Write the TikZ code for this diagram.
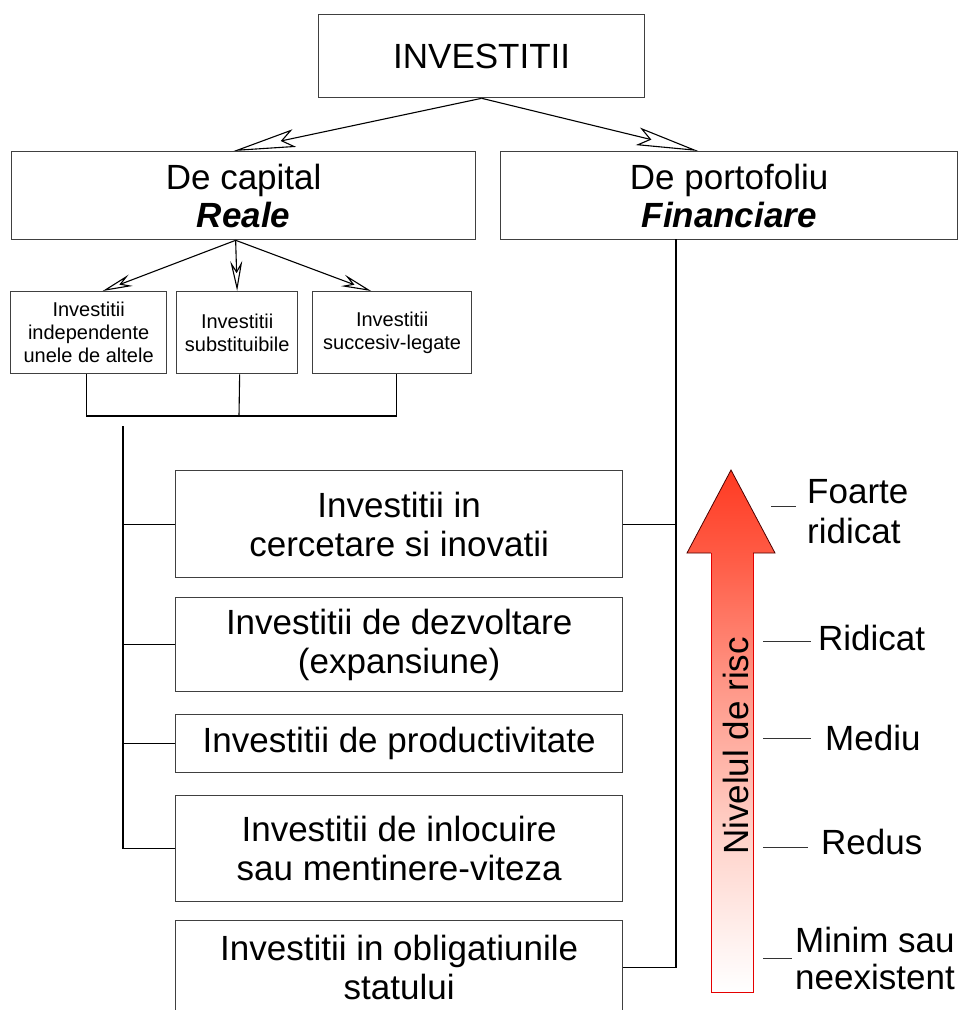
\documentclass[tikz,border=0pt]{standalone}
\usepackage{fontspec}
\setmainfont{Liberation Sans}
\usetikzlibrary{arrows.meta}

\definecolor{riskA}{HTML}{FFF4F2}
\definecolor{riskB}{HTML}{FFD2C9}
\definecolor{riskC}{HTML}{FF9484}
\definecolor{riskD}{HTML}{FF5E48}
\definecolor{riskE}{HTML}{FF3A22}

% vertical ramp for the risk arrow: white at the foot, red at the tip
\pgfdeclareverticalshading{riskshade}{100bp}{%
  color(0bp)=(white); color(25bp)=(white); color(29bp)=(riskA);
  color(40bp)=(riskB); color(55bp)=(riskC); color(66bp)=(riskD);
  color(75bp)=(riskE); color(100bp)=(riskE)}

\newcommand\mainsize{\fontsize{35}{39}\selectfont}
\newcommand\boxsmallfont{\fontsize{20}{23}\selectfont}

\begin{document}
\begin{tikzpicture}[x=1pt, y=-1pt,
  box/.style={draw=black!75, line width=1.3pt, fill=white, inner sep=0pt,
    align=center, anchor=north west, font=\mainsize},
  smallbox/.style={box, font=\boxsmallfont},
  link/.style={draw=black, line width=1.1pt},
  bigarrow/.style={link, -{Stealth[open, length=62pt, width=18pt, inset=12pt]}},
  smallarrow/.style={link, -{Stealth[open, length=30pt, width=12pt, inset=10pt]}},
  level/.style={inner sep=0pt, anchor=west, align=left, font=\mainsize},
  tick/.style={draw=black!80, line width=1pt}]

\useasboundingbox (0,0) rectangle (958,1010);
\clip (0,0) rectangle (958,1010);

% main categories
\node[box, minimum width=326pt, minimum height=83pt] (top) at (318,14) {INVESTITII};
\node[box, minimum width=464pt, minimum height=88pt] (cap) at (11,151)
  {De capital\\[-1pt]\textbf{\textit{Reale}}};
\node[box, minimum width=457pt, minimum height=88pt] (port) at (500,151)
  {De portofoliu\\[-1pt]\textbf{\textit{Financiare}}};

% kinds of real investments
\node[smallbox, minimum width=156pt, minimum height=82pt] (s1) at (10,291)
  {Investitii\\independente\\unele de altele};
\node[smallbox, minimum width=121pt, minimum height=82pt] (s2) at (176,291)
  {Investitii\\substituibile};
\node[smallbox, minimum width=159pt, minimum height=82pt] (s3) at (312,291)
  {Investitii\\succesiv-legate};

% investments ordered by risk
\node[box, minimum width=447pt, minimum height=107pt] (b1) at (175,470)
  {Investitii in\\cercetare si inovatii};
\node[box, minimum width=447pt, minimum height=94pt] (b2) at (175,597)
  {Investitii de dezvoltare\\(expansiune)};
\node[box, minimum width=447pt, minimum height=58pt] (b3) at (175,714)
  {Investitii de productivitate};
\node[box, minimum width=447pt, minimum height=106pt] (b4) at (175,795)
  {Investitii de inlocuire\\sau mentinere-viteza};
\node[box, minimum width=447pt, minimum height=93pt] (b5) at (175,920)
  {Investitii in obligatiunile\\statului};

% arrows from the root
\draw[bigarrow] (top.south) -- ([xshift=-10pt]cap.north);
\draw[bigarrow] (top.south) -- ([xshift=-31pt]port.north);

% arrows to the kinds of real investments
\coordinate (capfoot) at ([xshift=-8pt]cap.south);
\draw[smallarrow] (capfoot) -- ([xshift=14pt]s1.north);
\draw[smallarrow] (capfoot) -- (s2.north);
\draw[smallarrow] (capfoot) -- ([xshift=-21pt]s3.north);

% bracket under the three kinds
\coordinate (brk) at (239,416);
\draw[link] ([xshift=-2pt]s1.south) |- (brk) -| ([xshift=4.5pt]s3.south);
\draw[link] ([xshift=2.5pt]s2.south) -- (brk);

% trunk feeding the real investment boxes
\coordinate (trunk) at (123,426);
\draw[link] (trunk) |- (b4.west);
\draw[link] (b1.west -| trunk) -- (b1.west);
\draw[link] (b2.west -| trunk) -- (b2.west);
\draw[link] (b3.west -| trunk) -- (b3.west);

% portfolio line
\coordinate (pline) at (676,239);
\draw[link] (pline) |- (b5.east);
\draw[link] (b1.east) -- (b1.east -| pline);

% risk arrow
\shade[shading=riskshade] (711,553) -- (687,553) -- (731,470) -- (775,553)
  -- (753,553) -- (753,992) -- (711,992) -- cycle;
\draw[red!90!black, line width=0.8pt] (711,553) -- (711,992) -- (753,992) -- (753,553);
\draw[black!70!red, line width=0.8pt, line join=miter] (711,553) -- (687,553)
  -- (731,470) -- (775,553) -- (753,553);
\node[inner sep=0pt, rotate=90, font=\mainsize] (risk) at (736,746) {Nivelul de risc};

% risk levels
\node[level] (l1) at (807,512) {Foarte\\[1pt]ridicat};
\node[level] (l2) at (818,638) {Ridicat};
\node[level] (l3) at (825,738) {Mediu};
\node[level] (l4) at (821,842) {Redus};
\node[level] (l5) at (795,958) {Minim sau\\[-2pt]neexistent};

\coordinate (k1) at (771,506);
\coordinate (k2) at (763,641);
\coordinate (k3) at (763,738);
\coordinate (k4) at (763,847);
\coordinate (k5) at (763,958);
\draw[tick] (k1) -- ++(25,0);
\draw[tick] (k2) -- ++(48,0);
\draw[tick] (k3) -- ++(48,0);
\draw[tick] (k4) -- ++(45,0);
\draw[tick] (k5) -- ++(29,0);

\end{tikzpicture}
\end{document}
